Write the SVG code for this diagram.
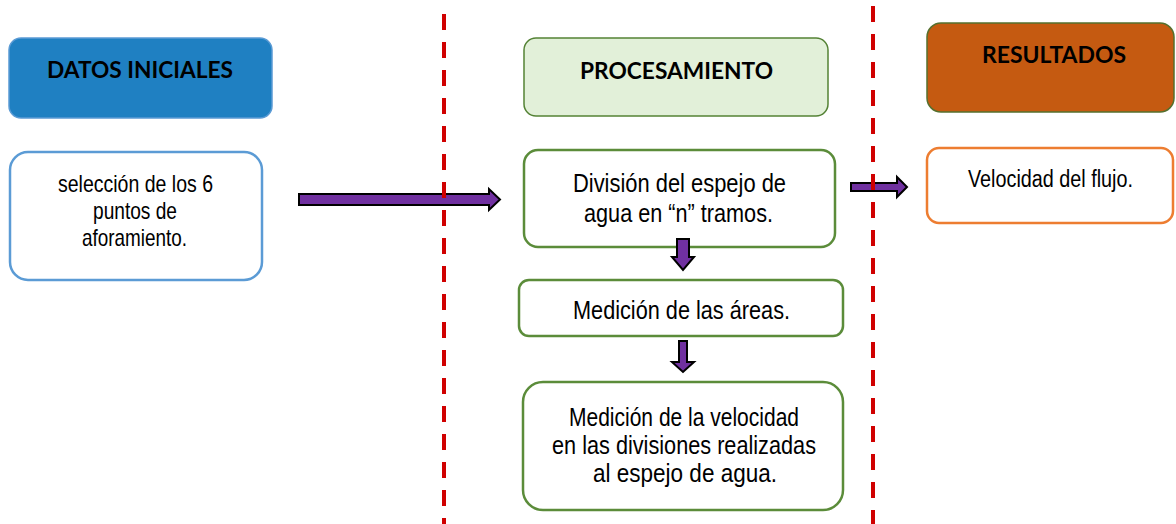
<svg xmlns="http://www.w3.org/2000/svg" width="1176" height="524" viewBox="0 0 1176 524">
<style>
.hdr{font-family:Lato,"Open Sans","Liberation Sans",sans-serif;font-weight:bold;font-size:23px;fill:#000;text-anchor:middle}
.txt{font-family:"Liberation Sans",Arial,sans-serif;font-size:25px;fill:#000;text-anchor:middle}
.box{fill:#fff;stroke-width:2.5}
.arrow{fill:#7030a0;stroke:#000;stroke-width:2;stroke-linejoin:miter}
.sep{stroke:#d00000;stroke-width:4;stroke-dasharray:16 12;fill:none}
</style>
<rect width="1176" height="524" fill="#fff"/>
<g id="datos-iniciales">
<rect x="9" y="38" width="263" height="80" rx="12" fill="#1f80c2" stroke="#5b9bd5" stroke-width="1.5"/>
<text class="hdr" x="140" y="78" textLength="186" lengthAdjust="spacingAndGlyphs">DATOS INICIALES</text>
</g>
<g id="seleccion">
<rect class="box" x="10" y="152" width="252" height="128" rx="18" stroke="#5b9bd5"/>
<text class="txt" style="font-size:24px" x="135.5" y="192" textLength="155" lengthAdjust="spacingAndGlyphs">selección de los 6</text>
<text class="txt" style="font-size:24px" x="135" y="219" textLength="84" lengthAdjust="spacingAndGlyphs">puntos de</text>
<text class="txt" style="font-size:24px" x="134.5" y="246" textLength="105" lengthAdjust="spacingAndGlyphs">aforamiento.</text>
</g>
<g id="procesamiento">
<rect x="524" y="38" width="304" height="78" rx="12" fill="#e2f0d9" stroke="#548235" stroke-width="1.5"/>
<text class="hdr" x="676.5" y="79" textLength="193" lengthAdjust="spacingAndGlyphs">PROCESAMIENTO</text>
</g>
<g id="division">
<rect class="box" x="524" y="150" width="311" height="97" rx="14" stroke="#5b8c3a"/>
<text class="txt" x="679.5" y="192" textLength="213" lengthAdjust="spacingAndGlyphs">División del espejo de</text>
<text class="txt" x="678.5" y="222" textLength="189" lengthAdjust="spacingAndGlyphs">agua en “n” tramos.</text>
</g>
<g id="medicion-areas">
<rect class="box" x="519" y="280" width="324" height="56" rx="10" stroke="#5b8c3a"/>
<text class="txt" x="681.5" y="319" textLength="217" lengthAdjust="spacingAndGlyphs">Medición de las áreas.</text>
</g>
<g id="medicion-velocidad">
<rect class="box" x="523" y="382" width="320" height="128" rx="20" stroke="#5b8c3a"/>
<text class="txt" x="684" y="426" textLength="230" lengthAdjust="spacingAndGlyphs">Medición de la velocidad</text>
<text class="txt" x="684" y="454" textLength="264" lengthAdjust="spacingAndGlyphs">en las divisiones realizadas</text>
<text class="txt" x="685" y="482" textLength="184" lengthAdjust="spacingAndGlyphs">al espejo de agua.</text>
</g>
<g id="resultados">
<rect x="927" y="23" width="247" height="89" rx="14" fill="#c55a11" stroke="#55702e" stroke-width="1.5"/>
<text class="hdr" x="1054" y="63" textLength="144" lengthAdjust="spacingAndGlyphs">RESULTADOS</text>
</g>
<g id="velocidad-flujo">
<rect class="box" x="927" y="148" width="246" height="75" rx="12" stroke="#ed7d31"/>
<text class="txt" style="font-size:23.5px" x="1050.5" y="187" textLength="165" lengthAdjust="spacingAndGlyphs">Velocidad del flujo.</text>
</g>
<g id="connectors">
<polygon class="arrow" points="299,194 489,194 489,189 500,199.5 489,210 489,205 299,205"/>
<polygon class="arrow" points="677,239 689,239 689,257 694,257 683,270 672,257 677,257"/>
<polygon class="arrow" points="679,341 687,341 687,362 694,362 683,372 672,362 679,362"/>
<polygon class="arrow" points="851,183 897,183 897,177 907,187 897,197 897,191 851,191"/>
</g>
<g id="separators">
<line class="sep" x1="444" y1="14" x2="444" y2="524"/>
<line class="sep" x1="873" y1="6" x2="873" y2="524"/>
</g>
</svg>
